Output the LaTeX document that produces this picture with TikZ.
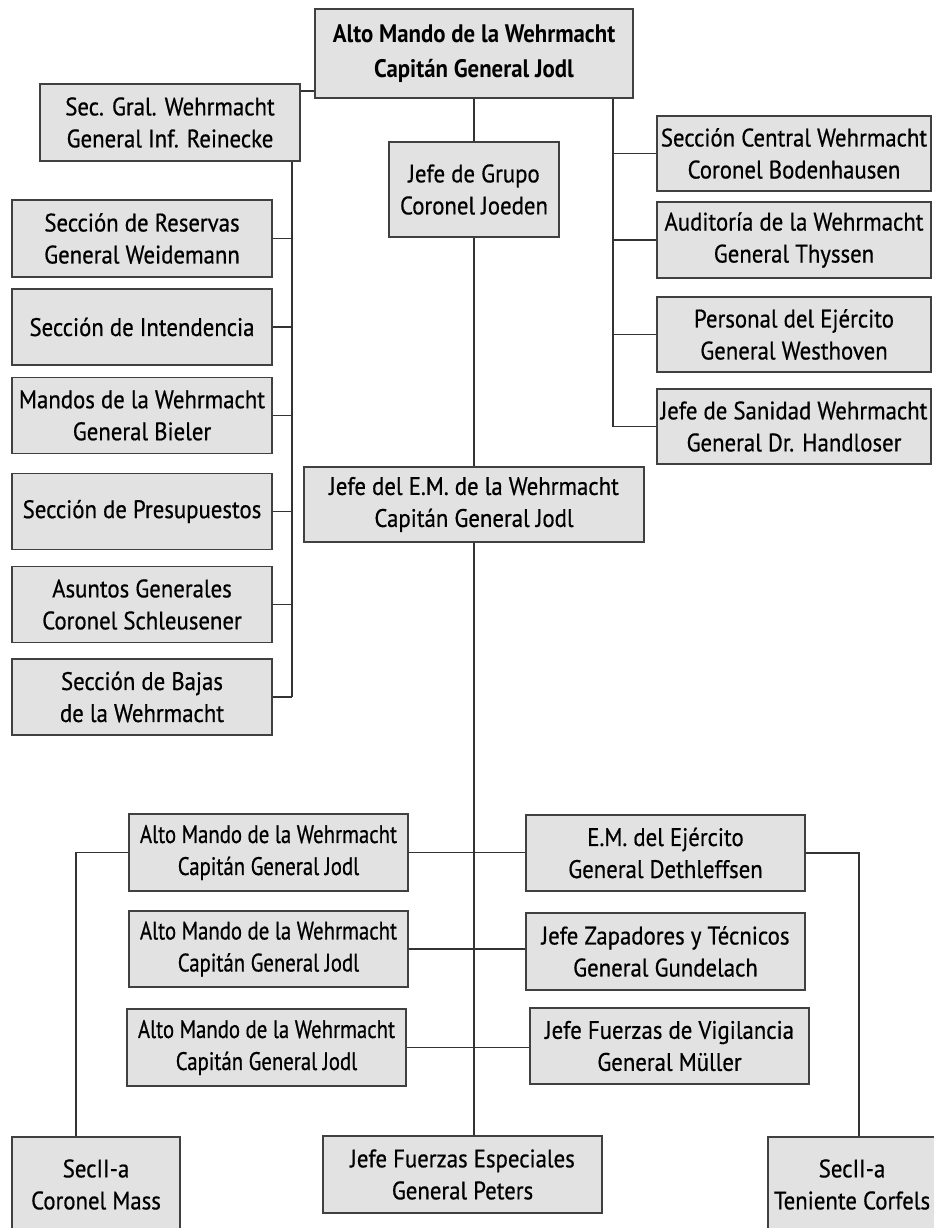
\documentclass[tikz,border=0pt]{standalone}
\usepackage{fontspec}
\setmainfont{PT Sans}[UprightFeatures={FakeStretch=0.9,FakeBold=0.6},BoldFeatures={FakeStretch=0.9}]
\newfontfamily\narrowfont{PT Sans}[FakeStretch=0.82,FakeBold=0.6]
\usepackage{tikz}
\definecolor{boxfill}{HTML}{E2E2E2}
\definecolor{boxline}{HTML}{404040}
\definecolor{wire}{HTML}{333333}
\tikzset{
  unit/.style={draw=boxline,fill=boxfill,line width=1.4pt,inner sep=0pt,align=center,
    font=\fontsize{19}{24}\selectfont},
  chief/.style={unit,font=\fontsize{19}{26}\selectfont\bfseries},
  narrowunit/.style={unit,font=\fontsize{19}{24}\selectfont\narrowfont},
  sized/.style 2 args={minimum width=#1*0.75pt,minimum height=#2*0.75pt},
  link/.style={draw=wire,line width=1.45pt},
}

\begin{document}
\begin{tikzpicture}[x=0.75pt,y=-0.75pt]
  \useasboundingbox (0,0) rectangle (934,1228);
  % top of the chart
  \node[chief,sized={318}{89}] (top) at (474,53.5) {Alto Mando de la Wehrmacht\\Capitán General Jodl};
  \node[unit,sized={260}{77}] (sec) at (170,122.5) {Sec. Gral. Wehrmacht\\General Inf. Reinecke};
  \node[unit,sized={170}{95}] (grupo) at (474,189.5) {Jefe de Grupo\\Coronel Joeden};
  \node[unit,sized={340}{75}] (jem) at (474,504.5) {Jefe del E.M. de la Wehrmacht\\Capitán General Jodl};

  % left column
  \node[unit,sized={260}{77}] (res) at (142,238.5) {Sección de Reservas\\General Weidemann};
  \node[unit,sized={260}{76}] (int) at (142,327) {Sección de Intendencia};
  \node[unit,sized={260}{76}] (man) at (142,415.5) {Mandos de la Wehrmacht\\General Bieler};
  \node[unit,sized={260}{76}] (pre) at (142,511.5) {Sección de Presupuestos};
  \node[unit,sized={260}{76}] (asu) at (142,604.5) {Asuntos Generales\\Coronel Schleusener};
  \node[unit,sized={260}{76}] (baj) at (142,697) {Sección de Bajas\\de la Wehrmacht};

  % right column
  \node[unit,sized={274}{75}] (cen) at (794,153.5) {Sección Central Wehrmacht\\Coronel Bodenhausen};
  \node[unit,sized={274}{76}] (aud) at (794,240) {Auditoría de la Wehrmacht\\General Thyssen};
  \node[unit,sized={274}{75}] (per) at (794,334.5) {Personal del Ejército\\General Westhoven};
  \node[unit,sized={274}{75}] (san) at (794,426.5) {Jefe de Sanidad Wehrmacht\\General Dr. Handloser};

  % lower block
  \node[narrowunit,sized={279}{77}] (am1) at (268.5,852.5) {Alto Mando de la Wehrmacht\\Capitán General Jodl};
  \node[narrowunit,sized={279}{76}] (am2) at (268.5,949) {Alto Mando de la Wehrmacht\\Capitán General Jodl};
  \node[narrowunit,sized={279}{77}] (am3) at (266.5,1047.5) {Alto Mando de la Wehrmacht\\Capitán General Jodl};
  \node[unit,sized={279}{76}] (em) at (665.5,853) {E.M. del Ejército\\General Dethleffsen};
  \node[unit,sized={279}{77}] (zap) at (665.5,951.5) {Jefe Zapadores y Técnicos\\General Gundelach};
  \node[unit,sized={279}{76}] (vig) at (669.5,1046) {Jefe Fuerzas de Vigilancia\\General Müller};
  \node[unit,sized={168}{95}] (mass) at (96,1184.5) {SecII-a\\Coronel Mass};
  \node[unit,sized={279}{77}] (esp) at (462.5,1174.5) {Jefe Fuerzas Especiales\\General Peters};
  \node[unit,sized={168}{95}] (corf) at (852,1184.5) {SecII-a\\Teniente Corfels};

  % bus lines
  \coordinate (tj) at (300,91);
  \coordinate (lbus) at (292,0);
  \coordinate (rbus) at (613,0);
  \coordinate (lout) at (76,0);
  \coordinate (rout) at (859,0);

  \draw[link] (sec.east |- tj) -- (top.west |- tj);
  \draw[link] (top.south) -- (grupo.north);
  \draw[link] (grupo.south) -- (jem.north);
  \draw[link] (jem.south) -- (jem.south |- esp.north);
  \draw[link] (sec.south -| lbus) -- (lbus |- baj.east);
  \foreach \n in {res,int,man,pre,asu,baj}
    \draw[link] (\n.east) -- (\n.east -| lbus);
  \draw[link] (top.south -| rbus) -- (rbus |- san.west);
  \foreach \n in {cen,aud,per,san}
    \draw[link] (\n.west) -- (\n.west -| rbus);
  \draw[link] (am1.east) -- (am1.east -| em.west);
  \draw[link] (am2.east) -- (am2.east -| zap.west);
  \draw[link] (am3.east) -- (am3.east -| vig.west);
  \draw[link] (am1.west) -| (lout |- mass.north);
  \draw[link] (em.east) -| (rout |- corf.north);
\end{tikzpicture}
\end{document}
